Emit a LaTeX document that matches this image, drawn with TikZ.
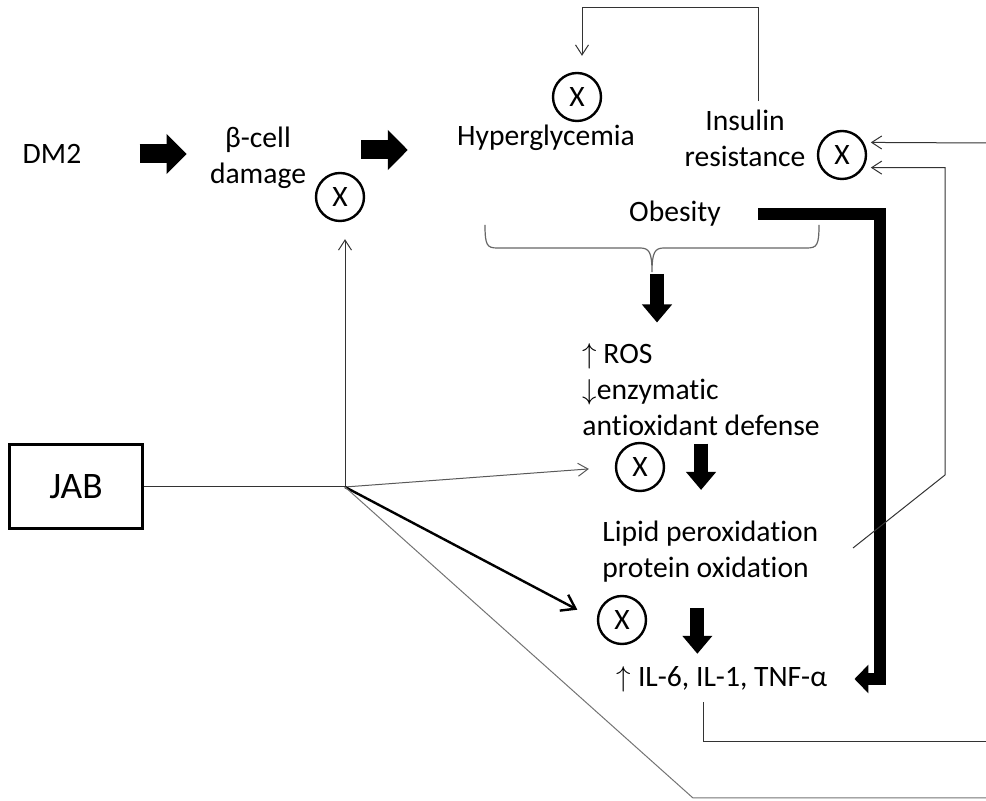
\documentclass[tikz,border=0pt]{standalone}
\usepackage{fontspec}
\setmainfont{Carlito}[Ligatures=NoCommon]
\usetikzlibrary{arrows.meta,positioning,calc}
\tikzset{
  lbl/.style={inner sep=0pt, align=center, font=\fontsize{14.8}{18}\selectfont},
  xmark/.style={circle, draw, line width=1.2pt, minimum size=24pt, inner sep=0pt,
                font=\fontsize{14.8}{18}\selectfont},
  jabbox/.style={rectangle, draw, line width=1.5pt, minimum width=66.5pt, minimum height=42pt,
                 font=\fontsize{18.7}{22}\selectfont},
  blk/.style={line width=9.5pt, -{Triangle[length=10pt,width=19.5pt]}},
  blkv/.style={line width=7pt, -{Triangle[length=9pt,width=14.5pt]}},
  fatarr/.style={line width=6pt, line join=miter, -{Triangle[length=7pt,width=14pt]}},
  arr/.style={-{Straight Barb[length=5pt,width=6.5pt]}, line width=0.5pt, draw=black!80},
  arrk/.style={-{Straight Barb[length=6.5pt,width=9pt]}, line width=1.2pt, draw=black},
  ln/.style={line width=0.5pt, draw=black!80},
  brc/.style={line width=0.6pt, draw=black!60},
}

\begin{document}
\begin{tikzpicture}[x=0.5pt,y=-0.5pt]
  \useasboundingbox (0,0) rectangle (986,801);
  % texts
  \node[lbl] (dm2) at (52,154) {DM2};
  \node[lbl] (beta) at (258,158) {β-cell\\damage};
  \node[lbl] (hyper) at (546,138) {Hyperglycemia};
  \node[lbl] (insres) at (745,138) {Insulin\\resistance};
  \node[lbl] (obes) at (675,214) {Obesity};
  \node[lbl, align=left, anchor=west] (ros) at (582,390) {$\uparrow$ ROS\\$\downarrow$enzymatic\\antioxidant defense};
  \node[lbl, align=left, anchor=west] (lipid) at (602,552) {Lipid peroxidation\\protein oxidation};
  \node[lbl] (cyto) at (722,679) {$\uparrow$ IL-6, IL-1, TNF-α};
  \node[jabbox] (jab) at (76,487) {JAB};
  % X marks
  \node[xmark] (xbeta) at (340,197) {X};
  \node[xmark] (xhyper) at (577,97) {X};
  \node[xmark] (xins) at (842,155) {X};
  \node[xmark] (xros) at (640,467) {X};
  \node[xmark] (xlip) at (622,620) {X};
  % free ends
  \coordinate (jn) at (345,487);
  \coordinate (fb) at (582,8);
  \coordinate (brtip) at (652,272);
  \coordinate (lp) at (853,548);
  \coordinate (r1) at (986,143);
  \coordinate (r2) at (986,742);
  \coordinate (r3) at (986,798);
  % main chain
  \draw[blk, shorten <=29pt, shorten >=11.5pt] (dm2.east) -- (dm2.east -| beta.west);
  \draw[blk, shorten <=27.5pt, shorten >=24.5pt] ([yshift=4pt]beta.east) -- ([yshift=4pt]beta.east -| hyper.west);
  \draw[arr, shorten >=8pt] ([xshift=6.5pt,yshift=4pt]insres.north) |- (fb) -- (fb |- xhyper.north);
  % brace
  \draw[brc] (485,225) .. controls (485,245) and (487,248) .. (497,248) -- (640,248)
    .. controls (649,248) and (652,252) .. (brtip)
    .. controls (652,252) and (655,248) .. (664,248) -- (807,248)
    .. controls (817,248) and (819,245) .. (819,225);
  \draw[blkv, shorten >=10.5pt] ([xshift=2.5pt,yshift=-1pt]brtip) -- ([xshift=2.5pt]brtip |- ros.north);
  \draw[blkv, shorten <=3.5pt, shorten >=15.5pt] (ros.south) -- (ros.south |- lipid.north);
  \draw[blkv, shorten <=12.5pt, shorten >=6pt] ([xshift=-6.5pt]lipid.south) -- ([xshift=-6.5pt]lipid.south |- cyto.north);
  \draw[fatarr, shorten >=13.5pt] ([xshift=18.5pt]obes.east) -| (880,679) -- (cyto.east);
  % feedback to insulin resistance
  \draw[arr, shorten >=3.5pt] (r1) -- (xins.30);
  \draw[arr, shorten >=3.5pt] (lp) -- (945,475) |- (xins.-30);
  \draw[ln] ([xshift=-9.5pt,yshift=-5pt]cyto.south) |- (r2);
  % JAB
  \draw[ln] (jab.east) -- (jn);
  \draw[arr, shorten >=8.5pt] (jn) -- (jn |- xbeta.south);
  \draw[arr, draw=black!65, shorten >=13pt] (jn) -- (xros.west);
  \draw[arrk, shorten >=11pt] (jn) -- (xlip.west);
  \draw[ln, draw=black!55] (jn) -- (693,798) -- (r3);
\end{tikzpicture}
\end{document}
